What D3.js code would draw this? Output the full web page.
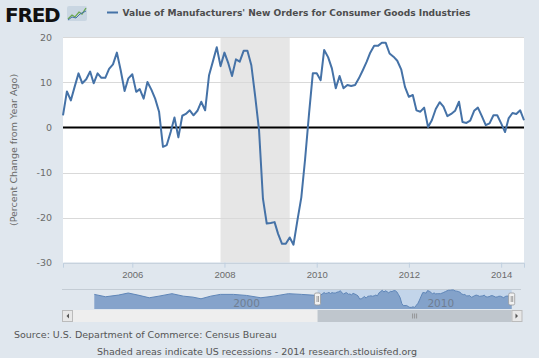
<!DOCTYPE html>
<html>
<head>
<meta charset="utf-8">
<script src="https://cdn.jsdelivr.net/npm/d3@7"></script>
<style>
  html, body { margin: 0; padding: 0; background: #e0e7ee; }
  svg { display: block; font-family: "DejaVu Sans", Verdana, sans-serif; }
</style>
</head>
<body>
<svg id="chart" width="539" height="358"></svg>
<script>
// ---- data ----
const seriesName = "Value of Manufacturers' New Orders for Consumer Goods Industries";
const startMonth = "2004-07";   // first monthly observation
const values = [
  2.7, 8, 6, 9, 12, 9.8, 10.7, 12.4, 9.8, 12, 11, 11,
  13, 14, 16.6, 12.7, 8.1, 10.9, 11.8, 7.9, 8.5, 6.4, 10.1, 8.4,
  6.4, 3.5, -4.3, -3.9, -1, 2.2, -2.2, 2.6, 3, 3.8, 2.7, 3.7,
  5.7, 3.8, 11.6, 14.6, 17.8, 13.6, 16.6, 14.2, 11.4, 15.1, 14.6, 17,
  17, 13.8, 6.8, -0.6, -15.8, -21.3, -21.2, -21, -23.6, -25.8, -25.8, -24.4,
  -26, -20.6, -15.5, -7, 3, 12, 12, 10.5, 17.2, 15.6, 13.1, 8.7,
  11.4, 8.7, 9.4, 9.2, 9.4, 10.9, 12.7, 14.6, 16.6, 18.1, 18.1, 18.8,
  18.8, 16.4, 15.7, 14.8, 12.9, 9, 6.8, 7.2, 3.8, 3.5, 4.4, 0.1,
  1.6, 4.1, 5.6, 4.6, 2.5, 3, 3.7, 5.7, 1.2, 1.0, 1.5, 3.7,
  4.4, 2.5, 0.5, 0.9, 2.7, 2.7, 0.9, -1, 2, 3.2, 3, 3.8,
  1.6
];
// earlier history shown only in the navigator
const navEarlyDates = ["1993-01","1993-08","1994-04","1994-10","1995-04","1995-11","1996-05","1997-01","1997-08","1998-02","1998-07","1999-01","1999-07","2000-03","2000-11","2001-08","2002-04","2003-01","2003-09","2004-06"];
const navEarlyValues = [7.5, 1.4, 5.7, 11, 5.7, -1.2, 3, 9.3, 3, 0.4, -3.8, 3, 7.5, 7.5, 4.8, -1.2, 3, 9.3, 7.5, 5];
const recessions = [["2007-12-01", "2009-06-01"]];
const yTicks = [20, 10, 0, -10, -20, -30];
const xTickYears = [2006, 2008, 2010, 2012, 2014];
const navTickYears = [2000, 2010];
const yTitle = "(Percent Change from Year Ago)";
const sourceText = "Source: U.S. Department of Commerce: Census Bureau";
const footText = "Shaded areas indicate US recessions - 2014 research.stlouisfed.org";

// ---- build ----
const parseM = d3.timeParse("%Y-%m");
const start = parseM(startMonth);
const data = values.map((v, i) => ({ date: d3.timeMonth.offset(start, i), value: v }));
const navData = navEarlyDates.map((d, i) => ({ date: parseM(d), value: navEarlyValues[i] })).concat(data);

const svg = d3.select("#chart");
const plot = { left: 63, right: 524, top: 37.3, bottom: 262.7 };

const x = d3.scaleTime().domain([new Date(2004, 6, 1), new Date(2014, 6, 1)]).range([plot.left, plot.right]);
const y = d3.scaleLinear().domain([-30, 20]).range([plot.bottom, plot.top]);

// background
svg.append("rect").attr("width", 539).attr("height", 358).attr("fill", "#e0e7ee");

// header: FRED logo
svg.append("text").attr("x", 5).attr("y", 22)
  .attr("font-family", "'DejaVu Sans', sans-serif").attr("font-weight", "900")
  .attr("font-size", 20).attr("fill", "#111").attr("letter-spacing", -1.2)
  .text("FRED");
const icon = svg.append("g").attr("transform", "translate(67,6)");
icon.append("rect").attr("width", 20).attr("height", 15).attr("rx", 2).attr("fill", "#c9d6e2");
icon.append("path").attr("d", "M1,13 L5,9 L8,11 L12,6 L15,8 L19,2").attr("fill", "none").attr("stroke", "#6aa84f").attr("stroke-width", 1.3);
icon.append("path").attr("d", "M1,14 L5,11 L9,12 L13,8 L19,5").attr("fill", "none").attr("stroke", "#4572a7").attr("stroke-width", 1);

// legend
svg.append("line").attr("x1", 107).attr("x2", 118).attr("y1", 12.5).attr("y2", 12.5)
  .attr("stroke", "#4572a7").attr("stroke-width", 2);
svg.append("text").attr("x", 122.5).attr("y", 16)
  .attr("font-size", 9.5).attr("font-weight", "bold").attr("fill", "#4d4d4d")
  .attr("textLength", 348).attr("lengthAdjust", "spacingAndGlyphs")
  .text(seriesName);

// plot area
svg.append("rect").attr("x", plot.left).attr("y", plot.top)
  .attr("width", plot.right - plot.left).attr("height", plot.bottom - plot.top)
  .attr("fill", "#ffffff");

// recession bands
recessions.forEach(r => {
  const x0 = x(new Date(r[0])), x1 = x(new Date(r[1]));
  svg.append("rect").attr("x", x0).attr("y", plot.top).attr("width", x1 - x0)
    .attr("height", plot.bottom - plot.top).attr("fill", "#e6e6e6");
});

// grid
svg.append("g").selectAll("line").data(yTicks.filter(t => t !== 0)).join("line")
  .attr("x1", plot.left).attr("x2", plot.right)
  .attr("y1", d => Math.round(y(d)) + 0.5).attr("y2", d => Math.round(y(d)) + 0.5)
  .attr("stroke", "#d9d9d9").attr("stroke-width", 1);

// y axis labels
const yAxis = d3.axisLeft(y).tickValues(yTicks).tickSize(0).tickPadding(0).tickFormat(d3.format("d"));
const gy = svg.append("g").attr("transform", `translate(52,0)`).call(yAxis);
gy.select(".domain").remove();
gy.selectAll("text").attr("font-size", 9.5).attr("fill", "#6b6b6b")
  .attr("font-family", "'DejaVu Sans', sans-serif")
  .text(d => d < 0 ? "-" + Math.abs(d) : d);

// x axis
const xAxis = d3.axisBottom(x).tickValues(xTickYears.map(yv => new Date(yv, 0, 1)))
  .tickSize(5).tickPadding(4).tickFormat(d3.timeFormat("%Y"));
const gx = svg.append("g").attr("transform", `translate(0,${plot.bottom})`).call(xAxis);
gx.select(".domain").attr("stroke", "#c0d0e0");
gx.selectAll(".tick line").attr("stroke", "#c0d0e0");
gx.selectAll("text").attr("font-size", 9.5).attr("fill", "#6b6b6b");

// zero line
svg.append("line").attr("x1", plot.left).attr("x2", plot.right)
  .attr("y1", y(0)).attr("y2", y(0)).attr("stroke", "#000").attr("stroke-width", 2);

// series line
const line = d3.line().x(d => x(d.date)).y(d => y(d.value));
svg.append("path").datum(data).attr("d", line)
  .attr("fill", "none").attr("stroke", "#4572a7").attr("stroke-width", 2)
  .attr("stroke-linejoin", "round");

// y title
svg.append("text").attr("transform", `translate(17,${(plot.top + plot.bottom) / 2}) rotate(-90)`)
  .attr("text-anchor", "middle").attr("font-size", 9.5).attr("fill", "#6b6b6b")
  .text(yTitle);

// ---- navigator ----
const nav = { left: 94.3, right: 511.7, top: 290.5, bottom: 309 };
const nx = d3.scaleTime().domain([new Date(1993, 0, 1), new Date(2014, 6, 1)]).range([nav.left, nav.right]);
const ny = d3.scaleLinear().domain([-30, 20]).range([nav.bottom, nav.top - 1]);
svg.append("line").attr("x1", 62).attr("x2", 521).attr("y1", 289.5).attr("y2", 289.5)
  .attr("stroke", "#c4ccd4").attr("stroke-width", 1);
const selX0 = nx(x.domain()[0]), selX1 = nx(x.domain()[1]);
svg.append("rect").attr("x", selX0).attr("y", 290).attr("width", selX1 - selX0).attr("height", nav.bottom - 290)
  .attr("fill", "#c3d5ea");
const area = d3.area().x(d => nx(d.date)).y0(nav.bottom).y1(d => ny(d.value));
svg.append("path").datum(navData).attr("d", area).attr("fill", "#7f9fc8").attr("fill-opacity", 0.95);
svg.append("path").datum(navData).attr("d", d3.line().x(d => nx(d.date)).y(d => ny(d.value)))
  .attr("fill", "none").attr("stroke", "#5f86b8").attr("stroke-width", 1);
navTickYears.forEach(yr => {
  svg.append("text").attr("x", nx(new Date(yr, 0, 1)) + 3).attr("y", 307)
    .attr("font-size", 10.5).attr("fill", "#6f7e92").text(yr);
});
// handles
[selX0, selX1].forEach(hx => {
  svg.append("rect").attr("x", hx - 3).attr("y", 293).attr("width", 6).attr("height", 12).attr("rx", 1.5)
    .attr("fill", "#f2f2f2").attr("stroke", "#999").attr("stroke-width", 0.8);
  svg.append("line").attr("x1", hx - 0.5).attr("x2", hx - 0.5).attr("y1", 296).attr("y2", 302).attr("stroke", "#666").attr("stroke-width", 0.6);
  svg.append("line").attr("x1", hx + 1).attr("x2", hx + 1).attr("y1", 296).attr("y2", 302).attr("stroke", "#666").attr("stroke-width", 0.6);
});
// scrollbar
svg.append("rect").attr("x", 62).attr("y", 310).attr("width", 459).attr("height", 12).attr("fill", "#eeeeee");
svg.append("rect").attr("x", selX0).attr("y", 310).attr("width", selX1 - selX0).attr("height", 12).attr("fill", "#bfc6cd");
[0, 1, 2].forEach(i => {
  svg.append("line").attr("x1", (selX0 + selX1) / 2 - 2 + i * 2).attr("x2", (selX0 + selX1) / 2 - 2 + i * 2)
    .attr("y1", 313.5).attr("y2", 318.5).attr("stroke", "#888").attr("stroke-width", 0.8);
});
[[62, "M66.5,316 L69,313.5 L69,318.5 Z"], [511.5, "M518,316 L515.5,313.5 L515.5,318.5 Z"]].forEach(([bx, p]) => {
  svg.append("rect").attr("x", bx + 0.5).attr("y", 310.5).attr("width", 10).attr("height", 11)
    .attr("fill", "#e8e8e8").attr("stroke", "#bbb").attr("stroke-width", 1);
  svg.append("path").attr("d", p).attr("fill", "#555");
});

// footer
svg.append("text").attr("x", 14).attr("y", 338).attr("font-size", 9.5).attr("fill", "#555").text(sourceText);
svg.append("text").attr("x", 257).attr("y", 355).attr("text-anchor", "middle").attr("font-size", 9.5).attr("fill", "#555").text(footText);
</script>
</body>
</html>
